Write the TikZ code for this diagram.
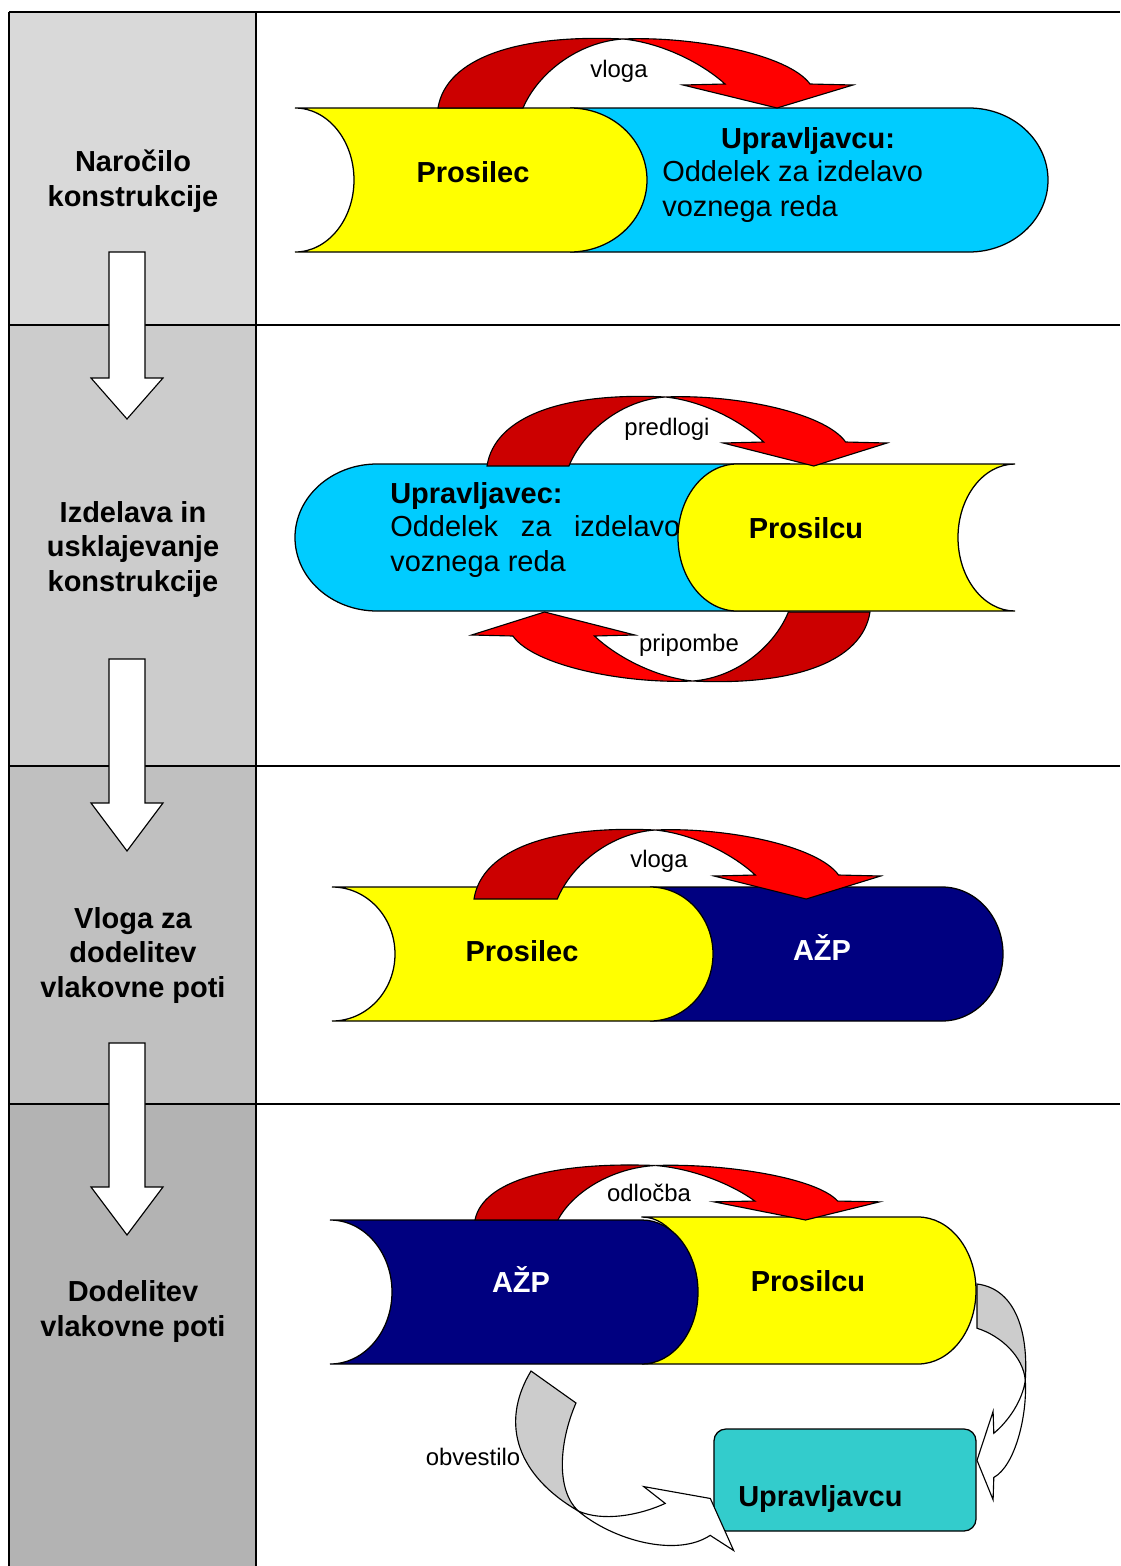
\documentclass[tikz,border=0pt]{standalone}
\usepackage{fontspec}
\setmainfont{Liberation Sans}
\usetikzlibrary{positioning}
\definecolor{tubeyellow}{RGB}{255,255,0}
\definecolor{tubecyan}{RGB}{0,204,255}
\definecolor{tubenavy}{RGB}{0,0,128}
\definecolor{boxteal}{RGB}{51,204,204}
\definecolor{arrowred}{RGB}{255,0,0}
\definecolor{arrowdark}{RGB}{204,0,0}
\definecolor{arrowgrey}{RGB}{204,204,204}
\definecolor{stageA}{RGB}{217,217,217}
\definecolor{stageB}{RGB}{204,204,204}
\definecolor{stageC}{RGB}{192,192,192}
\definecolor{stageD}{RGB}{179,179,179}

% tube: hollow left end, round right end (fill, x1, x2, ytop, ybot, left depth, right depth)
\newcommand{\tubeR}[7]{%
  \draw[tube, fill=#1] (#2,-#4) -- (#3,-#4)
    arc[start angle=90, end angle=-90, x radius=#7, y radius={(#5-#4)/2}]
    -- (#2,-#5)
    arc[start angle=-90, end angle=90, x radius=#6, y radius={(#5-#4)/2}] -- cycle;}
% tube: round left end, hollow right end
\newcommand{\tubeL}[7]{%
  \draw[tube, fill=#1] (#2,-#4) -- (#3,-#4)
    arc[start angle=90, end angle=270, x radius=#7, y radius={(#5-#4)/2}]
    -- (#2,-#5)
    arc[start angle=270, end angle=90, x radius=#6, y radius={(#5-#4)/2}] -- cycle;}
% twisted curved block arrow (transform, back colour, front colour)
\newcommand{\twistarrow}[3]{%
  \begin{scope}[#1]
    \draw[band, fill=#2] (0,0) .. controls (8,50) and (80,74) .. (185,69)
      .. controls (140,66) and (100,35) .. (85,0) -- cycle;
    \draw[band, fill=#3] (185,69) .. controls (225,65) and (265,44) .. (287,24)
      -- (245,23) -- (339,0) -- (415,23) -- (372,24)
      .. controls (350,54) and (255,72) .. (185,69) -- cycle;
  \end{scope}}

\begin{document}
\begin{tikzpicture}[x=0.025cm, y=0.025cm,
  tube/.style={draw, line width=0.9pt},
  band/.style={draw, line width=0.8pt},
  downarr/.style={draw, fill=white, line width=0.8pt},
  stagetext/.style={font=\fontsize{20.6}{24.2}\selectfont\bfseries, align=center, inner sep=0pt, anchor=base},
  tubetitle/.style={font=\fontsize{20.6}{24.2}\selectfont\bfseries, inner sep=0pt, anchor=base},
  tubebody/.style={font=\fontsize{20.6}{24.2}\selectfont, align=left, inner sep=0pt, anchor=base west},
  msgtext/.style={font=\fontsize{17}{20}\selectfont, inner sep=0pt, anchor=base},
]
\useasboundingbox (0,0) rectangle (1120,-1566);

% === Left column: stages ===
\fill[stageA] (9,-12) rectangle (256,-325);
\fill[stageB] (9,-325) rectangle (256,-766);
\fill[stageC] (9,-766) rectangle (256,-1104);
\fill[stageD] (9,-1104) rectangle (256,-1566);

% Grid
\draw[line width=1.1pt] (9,-12) -- (1120,-12);
\draw[line width=1.1pt] (9,-325) -- (1120,-325);
\draw[line width=1.1pt] (9,-766) -- (1120,-766);
\draw[line width=1.1pt] (9,-1104) -- (1120,-1104);
\draw[line width=1.4pt] (9,-12) -- (9,-1566);
\draw[line width=1.4pt] (256,-12) -- (256,-1566);

% Down arrows between stages
\draw[downarr] (109,-252) -- (145,-252) -- (145,-378) -- (163,-378) -- (127,-419) -- (91,-378) -- (109,-378) -- cycle;
\draw[downarr] (109,-659) -- (145,-659) -- (145,-803) -- (163,-803) -- (127,-851) -- (91,-803) -- (109,-803) -- cycle;
\draw[downarr] (109,-1043) -- (145,-1043) -- (145,-1187) -- (163,-1187) -- (127,-1235) -- (91,-1187) -- (109,-1187) -- cycle;

% (base anchor = last line)
\node[stagetext] (st1) at (133,-206) {Naročilo\\konstrukcije};
\node[stagetext] (st2) at (133,-591) {Izdelava in\\usklajevanje\\konstrukcije};
\node[stagetext] (st3) at (133,-997) {Vloga za\\dodelitev\\vlakovne poti};
\node[stagetext] (st4) at (133,-1336) {Dodelitev\\vlakovne poti};

% === Row 1: order ===
\tubeR{tubecyan}{570}{969}{108}{252}{59}{79}
\tubeR{tubeyellow}{295}{570}{108}{252}{59}{77}
\node[tubetitle] (pros1) at (473,-182) {Prosilec};
\node[tubetitle] (upr1) at (808,-148) {Upravljavcu:};
\node[tubebody] (odd1) at (662,-216) {Oddelek za izdelavo\\voznega reda};
\twistarrow{shift={(438,-108)}}{arrowdark}{arrowred}
\node[msgtext] (vloga1) at (619,-77) {vloga};

% === Row 2: drafting and coordination ===
\tubeL{tubecyan}{377}{790}{464}{611}{82}{58}
\node[tubetitle, anchor=base west] (upr2) at (390,-503) {Upravljavec:};
\node[tubebody] (odd2) at (390,-571) {\makebox[7.25cm][s]{Oddelek za izdelavo}\\voznega reda};
\tubeL{tubeyellow}{737}{1015}{464}{611}{59}{57}
\node[tubetitle] (pros2) at (806,-538) {Prosilcu};
\twistarrow{shift={(487,-466)}, xscale=0.964}{arrowdark}{arrowred}
\twistarrow{shift={(870,-612)}, xscale=-0.96, yscale=-1}{arrowdark}{arrowred}
\node[msgtext] (predlogi) at (667,-435) {predlogi};
\node[msgtext] (pripombe) at (689,-651) {pripombe};

% === Row 3: application ===
\tubeR{tubenavy}{650}{942}{887}{1021}{55}{61}
\tubeR{tubeyellow}{332}{650}{887}{1021}{63}{63}
\node[tubetitle] (pros3) at (522,-961) {Prosilec};
\node[tubetitle, white] (azp3) at (822,-960) {AŽP};
\twistarrow{shift={(474,-899)}, xscale=0.98}{arrowdark}{arrowred}
\node[msgtext] (vloga3) at (659,-867) {vloga};

% === Row 4: allocation ===
\tubeR{tubeyellow}{642}{918}{1217}{1364}{50}{58}
\tubeR{tubenavy}{330}{642}{1220}{1364}{62}{56}
\node[tubetitle, white] (azp4) at (521,-1292) {AŽP};
\node[tubetitle] (pros4) at (808,-1291) {Prosilcu};
\twistarrow{shift={(475,-1220)}, xscale=0.975, yscale=0.79}{arrowdark}{arrowred}
\node[msgtext] (odlocba) at (649,-1201) {odločba};

\node[draw, fill=boxteal, line width=0.9pt, rounded corners=0.3cm, minimum width=6.55cm, minimum height=2.55cm] (uprbox) at (845,-1480) {};
\node[tubetitle, anchor=base west] (upr4) at (738,-1506) {Upravljavcu};

\twistarrow{shift={(977,-1284)}, rotate=-90, xscale=0.52, yscale=0.7}{arrowgrey}{white}
\twistarrow{cm={0.529,-0.376,-0.734,-1.02,(531,-1371)}}{arrowgrey}{white}
\node[msgtext] (obvestilo) at (473,-1465) {obvestilo};
\end{tikzpicture}
\end{document}
